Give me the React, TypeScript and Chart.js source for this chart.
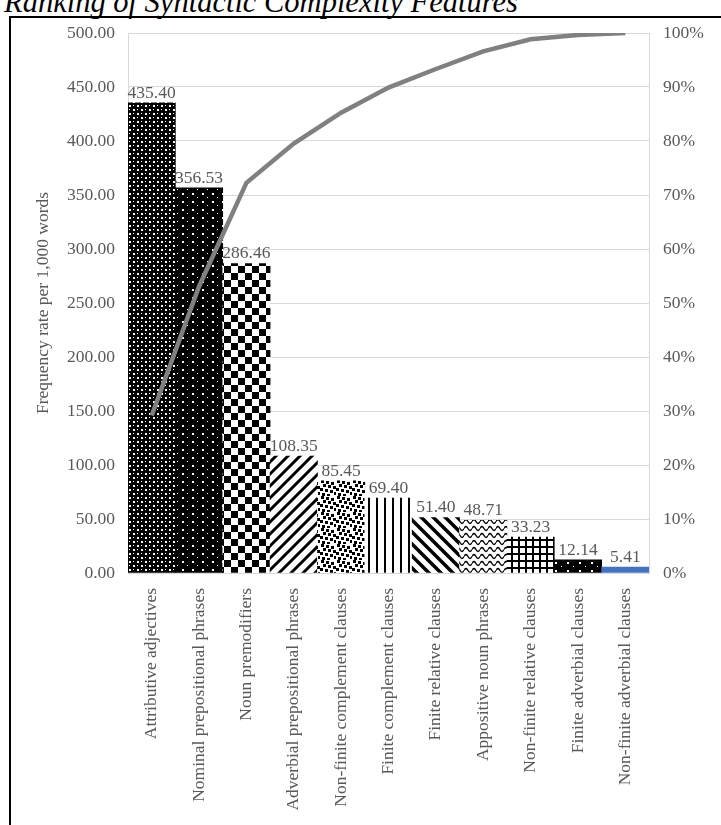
import React, { useEffect, useRef } from 'react';
import { Chart, registerables } from 'chart.js';

Chart.register(...registerables);

const categories = [
  'Attributive adjectives',
  'Nominal prepositional phrases',
  'Noun premodifiers',
  'Adverbial prepositional phrases',
  'Non-finite complement clauses',
  'Finite complement clauses',
  'Finite relative clauses',
  'Appositive noun phrases',
  'Non-finite relative clauses',
  'Finite adverbial clauses',
  'Non-finite adverbial clauses',
];

const frequencies = [435.4, 356.53, 286.46, 108.35, 85.45, 69.4, 51.4, 48.71, 33.23, 12.14, 5.41];

const cumulativePercent = [29.17, 53.06, 72.26, 79.52, 85.24, 89.89, 93.33, 96.6, 98.83, 99.64, 100];

const leftAxisMax = 500;
const leftAxisStep = 50;
const rightAxisMax = 100;
const rightAxisStep = 10;

const titleText = 'Ranking of Syntactic Complexity Features';
const yAxisTitle = 'Frequency rate per 1,000 words';

const FONT = '"Liberation Serif", "Times New Roman", Times, serif';
const TEXT = '#595959';
const GRID = '#d9d9d9';
const FS = 17.5;

function tile(main: CanvasRenderingContext2D, w: number, h: number, draw: (c: CanvasRenderingContext2D) => void) {
  const c = document.createElement('canvas');
  c.width = w;
  c.height = h;
  const g = c.getContext('2d')!;
  draw(g);
  return main.createPattern(c, 'repeat') as CanvasPattern;
}

function makeFills(main: CanvasRenderingContext2D) {
  const dense = tile(main, 8, 8, (g) => {
    g.fillStyle = '#000';
    g.fillRect(0, 0, 8, 8);
    g.fillStyle = '#fff';
    g.fillRect(1, 1, 2, 2);
    g.fillRect(5, 5, 2, 2);
    g.fillRect(5, 1, 1, 1);
    g.fillRect(1, 5, 1, 1);
  });
  const sparse = tile(main, 10, 8, (g) => {
    g.fillStyle = '#000';
    g.fillRect(0, 0, 10, 8);
    g.fillStyle = '#fff';
    g.fillRect(2, 1, 2, 2);
    g.fillRect(7, 5, 1, 1);
  });
  const checker = tile(main, 14, 14, (g) => {
    g.fillStyle = '#fff';
    g.fillRect(0, 0, 14, 14);
    g.fillStyle = '#000';
    g.fillRect(0, 0, 7, 7);
    g.fillRect(7, 7, 7, 7);
  });
  const upDiag = tile(main, 12, 12, (g) => {
    g.fillStyle = '#fff';
    g.fillRect(0, 0, 12, 12);
    g.strokeStyle = '#000';
    g.lineWidth = 3;
    g.beginPath();
    g.moveTo(-6, 6); g.lineTo(6, -6);
    g.moveTo(0, 12); g.lineTo(12, 0);
    g.moveTo(6, 18); g.lineTo(18, 6);
    g.stroke();
  });
  const confetti = tile(main, 16, 16, (g) => {
    g.fillStyle = '#fff';
    g.fillRect(0, 0, 16, 16);
    g.fillStyle = '#000';
    const spots = [[1, 0], [6, 1], [11, 2], [3, 4], [8, 5], [13, 6], [0, 8], [5, 9], [10, 10], [14, 12], [2, 13], [7, 14]];
    spots.forEach(([x, y]) => g.fillRect(x, y, 3, 3));
  });
  const vertical = tile(main, 8, 4, (g) => {
    g.fillStyle = '#fff';
    g.fillRect(0, 0, 8, 4);
    g.fillStyle = '#000';
    g.fillRect(0, 0, 2, 4);
  });
  const downDiag = tile(main, 12, 12, (g) => {
    g.fillStyle = '#fff';
    g.fillRect(0, 0, 12, 12);
    g.strokeStyle = '#000';
    g.lineWidth = 3.5;
    g.beginPath();
    g.moveTo(-6, 6); g.lineTo(6, 18);
    g.moveTo(0, 0); g.lineTo(12, 12);
    g.moveTo(6, -6); g.lineTo(18, 6);
    g.stroke();
  });
  const waves = tile(main, 8, 7, (g) => {
    g.fillStyle = '#fff';
    g.fillRect(0, 0, 8, 7);
    g.strokeStyle = '#000';
    g.lineWidth = 1.4;
    g.beginPath();
    g.moveTo(0, 3.5);
    g.bezierCurveTo(1.5, 0.8, 2.5, 0.8, 4, 3.5);
    g.bezierCurveTo(5.5, 6.2, 6.5, 6.2, 8, 3.5);
    g.stroke();
  });
  const grid = tile(main, 7, 7, (g) => {
    g.fillStyle = '#fff';
    g.fillRect(0, 0, 7, 7);
    g.fillStyle = '#000';
    g.fillRect(0, 0, 7, 2);
    g.fillRect(0, 0, 2, 7);
  });
  const darkDots = tile(main, 12, 8, (g) => {
    g.fillStyle = '#000';
    g.fillRect(0, 0, 12, 8);
    g.fillStyle = '#fff';
    g.fillRect(3, 2, 2, 2);
    g.fillRect(9, 6, 1, 1);
  });
  return [dense, sparse, checker, upDiag, confetti, vertical, downDiag, waves, grid, darkDots, '#4472C4'];
}

export default function App() {
  const ref = useRef<HTMLCanvasElement>(null);

  useEffect(() => {
    const canvas = ref.current!;
    const ctx = canvas.getContext('2d')!;
    const fills = makeFills(ctx);

    const labelPlugin = {
      id: 'barValueLabels',
      afterDatasetsDraw(chart: any) {
        const meta = chart.getDatasetMeta(1);
        const c = chart.ctx;
        c.save();
        c.font = `${FS}px ${FONT}`;
        c.fillStyle = TEXT;
        c.textAlign = 'center';
        c.textBaseline = 'bottom';
        meta.data.forEach((el: any, i: number) => {
          c.fillText(frequencies[i].toFixed(2), el.x, el.y - 1);
        });
        c.restore();
      },
    };

    const chart = new Chart(canvas, {
      type: 'bar',
      data: {
        labels: categories,
        datasets: [
          {
            type: 'line',
            data: cumulativePercent,
            yAxisID: 'y1',
            borderColor: '#808080',
            borderWidth: 4.5,
            pointRadius: 0,
            tension: 0,
            order: 0,
          } as any,
          {
            type: 'bar',
            data: frequencies,
            yAxisID: 'y',
            backgroundColor: fills as any,
            borderWidth: 0,
            barPercentage: 1,
            categoryPercentage: 1,
            order: 1,
          },
        ],
      },
      options: {
        responsive: false,
        animation: false,
        layout: { padding: { left: 29, right: 12, top: 33, bottom: 12 } },
        plugins: {
          legend: { display: false },
          tooltip: { enabled: false },
          title: { display: false },
        },
        scales: {
          x: {
            offset: true,
            grid: { display: false, drawTicks: false },
            border: { display: true, color: GRID },
            ticks: {
              color: TEXT,
              font: { family: FONT, size: FS },
              minRotation: 90,
              maxRotation: 90,
              autoSkip: false,
              padding: 15,
            },
            afterFit: (s: any) => { s.height = 240; },
          },
          y: {
            position: 'left',
            min: 0,
            max: leftAxisMax,
            grid: { color: GRID, drawTicks: false },
            border: { display: true, color: GRID },
            ticks: {
              stepSize: leftAxisStep,
              color: TEXT,
              font: { family: FONT, size: FS },
              padding: 13,
              callback: (v: any) => Number(v).toFixed(2),
            },
            title: {
              display: true,
              text: yAxisTitle,
              color: TEXT,
              font: { family: FONT, size: FS },
              padding: { top: 4, bottom: 0 },
            },
            afterFit: (s: any) => { s.width = 99; },
          },
          y1: {
            position: 'right',
            min: 0,
            max: rightAxisMax,
            grid: { display: false, drawTicks: false },
            border: { display: true, color: GRID },
            ticks: {
              stepSize: rightAxisStep,
              color: TEXT,
              font: { family: FONT, size: FS },
              padding: 14,
              callback: (v: any) => `${v}%`,
            },
            afterFit: (s: any) => { s.width = 60; },
          },
        },
      },
      plugins: [labelPlugin],
    });

    return () => chart.destroy();
  }, []);

  return (
    <div style={{ position: 'absolute', left: 0, top: 0, width: 721, height: 825, overflow: 'hidden', background: '#fff' }}>
      <div
        style={{
          position: 'absolute',
          left: 4,
          top: -13,
          fontFamily: FONT,
          fontStyle: 'italic',
          fontSize: 30.5,
          lineHeight: '30.5px',
          color: '#000',
          whiteSpace: 'nowrap',
        }}
      >
        {titleText}
      </div>
      <div
        style={{
          position: 'absolute',
          left: 9,
          top: 16,
          width: 800,
          height: 900,
          borderLeft: '2px solid #000',
          borderTop: '2px solid #000',
        }}
      />
      <canvas
        ref={ref}
        width={721}
        height={825}
        style={{ position: 'absolute', left: 0, top: 0, width: 721, height: 825 }}
      />
    </div>
  );
}
